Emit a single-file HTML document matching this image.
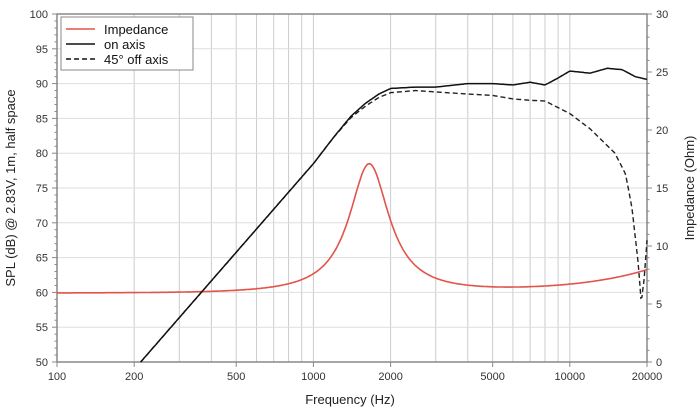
<!DOCTYPE html><html><head><style>body{margin:0;background:#fff}svg{display:block;font-family:"Liberation Sans",sans-serif}</style></head><body>
<svg id="s" width="700" height="412" xmlns="http://www.w3.org/2000/svg"></svg>
<script>
const s=document.getElementById('s');let h='';
const L=57,R=647,T=14,B=362;
const X=f=>L+(R-L)*Math.log10(f/100)/Math.log10(200);
const Y=d=>B-(d-50)*(B-T)/50;
const Z=o=>B-o*(B-T)/30;
for(const dec of [100,1000,10000])for(let k=1;k<10;k++){const f=dec*k;if(f<100||f>20000)continue;h+=`<line x1="${X(f)}" y1="${T}" x2="${X(f)}" y2="${B}" stroke="#ccc" stroke-width="1"/>`;}
for(let d=55;d<100;d+=5)h+=`<line x1="${L}" y1="${Y(d)}" x2="${R}" y2="${Y(d)}" stroke="#ddd" stroke-width="1"/>`;
h+=`<rect x="${L}" y="${T}" width="${R-L}" height="${B-T}" fill="none" stroke="#888" stroke-width="1.5"/>`;
for(let d=50;d<=100;d++){const w=d%5==0?5:2.5;h+=`<line x1="${L-w}" y1="${Y(d)}" x2="${L}" y2="${Y(d)}" stroke="#888"/>`;if(d%5==0)h+=`<text x="${L-9}" y="${Y(d)+4}" font-size="11" text-anchor="end" fill="#333">${d}</text>`;}
for(let o=0;o<=30;o++){const w=o%5==0?5:2.5;h+=`<line x1="${R}" y1="${Z(o)}" x2="${R+w}" y2="${Z(o)}" stroke="#888"/>`;if(o%5==0)h+=`<text x="${R+9}" y="${Z(o)+4}" font-size="11" fill="#333">${o}</text>`;}
for(const f of [100,200,500,1000,2000,5000,10000,20000])h+=`<line x1="${X(f)}" y1="${B}" x2="${X(f)}" y2="${B+5}" stroke="#888"/><text x="${X(f)}" y="${B+18}" font-size="11" text-anchor="middle" fill="#333">${f}</text>`;
h+=`<text x="350" y="404" font-size="13" text-anchor="middle" fill="#222">Frequency (Hz)</text>`;
h+=`<text transform="translate(15,188) rotate(-90)" font-size="13" text-anchor="middle" fill="#222">SPL (dB) @ 2.83V, 1m, half space</text>`;
h+=`<text transform="translate(694,188) rotate(-90)" font-size="13" text-anchor="middle" fill="#222">Impedance (Ohm)</text>`;
function interp(pts,f){for(let i=0;i<pts.length-1;i++){const[a,ya]=pts[i],[b,yb]=pts[i+1];if(f>=a&&f<=b){const t=Math.log(f/a)/Math.log(b/a);return ya+(yb-ya)*t;}}return pts[pts.length-1][1];}
function pathF(fn,Yf,f0,f1){let p='';for(let i=0;i<=500;i++){const f=f0*Math.pow(f1/f0,i/500);p+=(i?'L':'M')+X(f).toFixed(1)+','+Yf(fn(f)).toFixed(1);}return p;}
const on=[[212,50],[1000,78.5],[1200,82.3],[1400,85.3],[1600,87.2],[1800,88.5],[2000,89.3],[2500,89.5],[3000,89.5],[4000,90],[5000,90],[6000,89.8],[7000,90.2],[8000,89.8],[9000,90.8],[10000,91.8],[12000,91.5],[14000,92.2],[16000,92],[18000,91],[20000,90.6]];
const off=[[212,50],[1000,78.5],[1200,82.3],[1400,85.1],[1600,86.8],[1800,88],[2000,88.7],[2500,89],[3000,88.8],[4000,88.5],[5000,88.3],[6000,87.8],[7000,87.6],[8000,87.5],[10000,85.7],[12000,83.5],[15000,80],[16500,77],[17500,72],[18500,64],[19000,58.5],[19500,62],[20000,67.5]];
const imp=f=>{const x=f/1650-1650/f;return 5.95+11.1/(1+5.3*x*x)+2.0*Math.pow(f/20000,1.5);};
h+=`<path d="${pathF(imp,Z,100,20000)}" fill="none" stroke="#e2544a" stroke-width="1.6"/>`;
h+=`<path d="${pathF(f=>interp(off,f),Y,212,20000)}" fill="none" stroke="#222" stroke-width="1.4" stroke-dasharray="5,3"/>`;
h+=`<path d="${pathF(f=>interp(on,f),Y,212,20000)}" fill="none" stroke="#111" stroke-width="1.5"/>`;
h+=`<rect x="61" y="17" width="132" height="53" fill="#fff" stroke="#888"/>`;
h+=`<line x1="66" y1="29" x2="95" y2="29" stroke="#e2544a" stroke-width="1.5"/><text x="104" y="34" font-size="13" fill="#111">Impedance</text>`;
h+=`<line x1="66" y1="44" x2="95" y2="44" stroke="#111" stroke-width="1.5"/><text x="104" y="49" font-size="13" fill="#111">on axis</text>`;
h+=`<line x1="66" y1="59" x2="95" y2="59" stroke="#111" stroke-width="1.5" stroke-dasharray="5,3"/><text x="104" y="64" font-size="13" fill="#111">45° off axis</text>`;
s.innerHTML=h;
</script></body></html>
